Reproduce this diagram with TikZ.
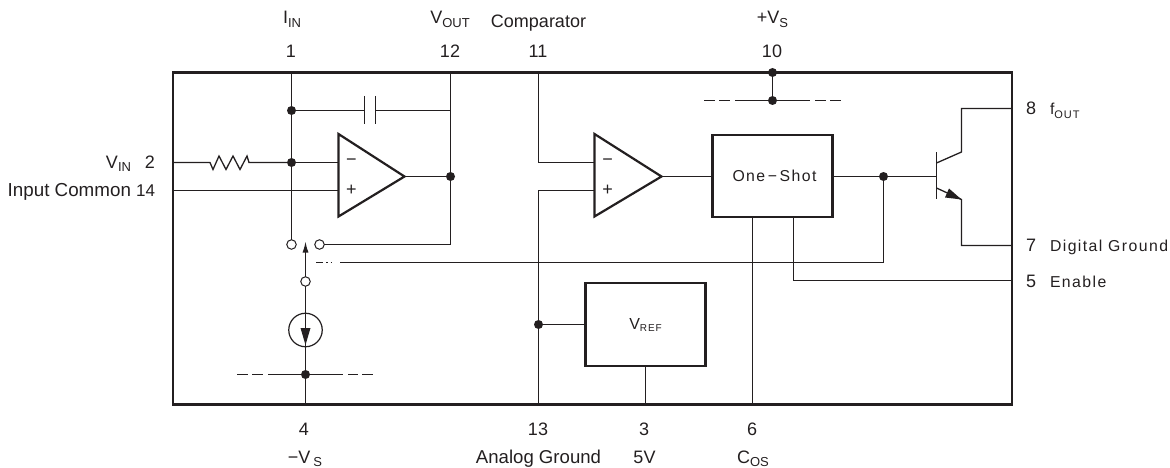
\documentclass[tikz,border=0pt]{standalone}
\usepackage{fontspec}
\setmainfont{Liberation Sans}
\newfontfamily\widefont[LetterSpace=9]{Liberation Sans}
\usetikzlibrary{arrows.meta,calc}
\definecolor{ink}{HTML}{231F20}
\tikzset{
  every node/.style={text=ink,inner sep=0pt,outer sep=0pt},
  wire/.style={draw=ink,line width=1.3pt},
  heavy/.style={draw=ink,line width=2.2pt},
  dotn/.style={circle,fill=ink,draw=none,minimum size=9pt},
  opn/.style={circle,fill=white,draw=ink,line width=1pt,minimum size=9.5pt},
  lab/.style={font=\fontsize{18}{20}\selectfont,anchor=base},
  wlab/.style={font=\fontsize{15.8}{18}\selectfont\widefont,anchor=base west},
  block/.style={draw=ink,line width=2.2pt,fill=white,anchor=north west},
}
\newcommand{\sbs}[1]{\raisebox{-3.5pt}{\fontsize{13}{14}\selectfont #1}}
\begin{document}
\begin{tikzpicture}[x=1pt,y=-1pt]
\useasboundingbox (0,0) rectangle (1170,468);
% frame
\node[draw=ink,line width=2.6pt,anchor=north west,minimum width=839pt,minimum height=332pt] (frame) at (173,72.5) {};
% pins
\coordinate (p1) at (291.5,72.5);
\coordinate (p12) at (450.5,72.5);
\coordinate (p11) at (538.5,72.5);
\coordinate (p4) at (305.5,404.5);
\coordinate (p13) at (538.5,404.5);
\coordinate (p3) at (645.5,404.5);
\coordinate (p6) at (752.5,404.5);
\coordinate (p2) at (173,162.5);
\coordinate (p14) at (173,190.5);
\coordinate (p8) at (1012,108.5);
\coordinate (p7) at (1012,245.5);
\coordinate (p5) at (1012,280.5);
% dots and contacts
\node[dotn] (d1) at (291.5,110.5) {};
\node[dotn] (d2) at (291.5,162.5) {};
\node[dotn] (dout) at (450.5,176.5) {};
\node[dotn] (dvs) at (772.5,72.5) {};
\node[dotn] (dvs2) at (772.5,100.5) {};
\node[dotn] (dneg) at (305.5,374.5) {};
\node[dotn] (dvref) at (538.5,324.5) {};
\node[dotn] (dos) at (883.5,176.5) {};
\node[opn] (sa) at (291.5,244.5) {};
\node[opn] (sb) at (319.5,244.5) {};
\node[opn] (sc) at (305.5,281.5) {};
% blocks
\node[block,minimum width=120pt,minimum height=82pt,font=\fontsize{15.8}{18}\selectfont\widefont] (os) at (712.5,135) {\hspace{4pt}One\,−\,Shot};
\node[block,minimum width=120pt,minimum height=83pt] (vref) at (585.5,283) {\fontsize{16}{18}\selectfont V\raisebox{-2pt}{\fontsize{10}{11}\selectfont\widefont REF}};
% op amps
\coordinate (a1) at (338.5,134);
\coordinate (a2) at (338.5,216.5);
\coordinate (a3) at (404.5,176.5);
\coordinate (b1) at (594.5,134);
\coordinate (b2) at (594.5,216.5);
\coordinate (b3) at (661.5,176.5);
% wires
\draw[wire] (p1) -- (sa.north);
\draw[wire] (d1) -- (364.5,110.5);
\draw[wire] (375.5,110.5) -- (450.5,110.5);
\draw[wire] (364.5,96) -- (364.5,124);
\draw[wire] (375.5,96) -- (375.5,124);
% resistor
\draw[wire] (p2) -- (210,162.5) -- (213,169.5) -- (219,156) -- (226,169.5) -- (233,156) -- (240,169.5) -- (247,156) -- (249,162.5) -- (d2);
\draw[wire] (d2) -- (338.5,162.5);
\draw[wire] (p14) -- (338.5,190.5);
\draw[wire] (p12) -- (450.5,244.5) -- (sb.east);
\draw[wire] (a3) -- (dout);
% switch
\draw[wire,-{Latex[length=11pt,width=6pt]}] (sc.north) -- (305.5,241.5);
\draw[wire] (sc.south) -- (p4);
\draw[wire] (316,262.5) -- (323,262.5);
\draw[wire] (326,262.5) -- (327.5,262.5);
\draw[wire] (330.5,262.5) -- (332,262.5);
\draw[wire] (340,262.5) -- (883.5,262.5) -- (dos);
% current source
\node[draw=ink,line width=1.2pt,fill=white,circle,minimum size=33.5pt] (cs) at (305.5,330) {};
\draw[wire] (cs.north) -- (cs.south);
\fill[ink] (300.5,328) -- (310.5,328) -- (305.5,345) -- cycle;
% rails
\draw[wire] (237,374.5) -- (248,374.5);
\draw[wire] (252,374.5) -- (263,374.5);
\draw[wire] (268,374.5) -- (dneg);
\draw[wire] (dneg) -- (343,374.5);
\draw[wire] (348,374.5) -- (358,374.5);
\draw[wire] (362,374.5) -- (373,374.5);
\draw[wire] (704,100.5) -- (715,100.5);
\draw[wire] (719,100.5) -- (730,100.5);
\draw[wire] (735,100.5) -- (dvs2);
\draw[wire] (dvs) -- (dvs2);
\draw[wire] (dvs2) -- (810,100.5);
\draw[wire] (815,100.5) -- (826,100.5);
\draw[wire] (830,100.5) -- (841,100.5);
% amp triangles
\draw[heavy,fill=white,line join=miter] (a1) -- (a2) -- (a3) -- cycle;
\draw[heavy,fill=white,line join=miter] (b1) -- (b2) -- (b3) -- cycle;
\node[font=\fontsize{18}{20}\selectfont] (m1) at (351.5,162.5) {−};
\node[font=\fontsize{18}{20}\selectfont] (pl1) at (351.5,190.5) {+};
\node[font=\fontsize{18}{20}\selectfont] (m2) at (607.5,162.5) {−};
\node[font=\fontsize{18}{20}\selectfont] (pl2) at (607.5,190.5) {+};
% comparator wiring
\draw[wire] (p11) -- (538.5,162.5) -- (594.5,162.5);
\draw[wire] (594.5,190.5) -- (538.5,190.5) -- (p13);
\draw[wire] (dvref) -- (585.5,324.5);
\draw[wire] (645.5,366) -- (p3);
\draw[wire] (b3) -- (712.5,176.5);
\draw[wire] (832.5,176.5) -- (936.5,176.5);
\draw[wire] (p6) -- (752.5,217);
\draw[wire] (793.5,217) -- (793.5,280.5) -- (p5);
% transistor
\draw[wire] (936.5,152.5) -- (936.5,198.5);
\draw[wire] (936.5,163) -- (961.5,152) -- (961.5,108.5) -- (p8);
\draw[wire] (936.5,188) -- (961.5,199.5) -- (961.5,245.5) -- (p7);
\fill[ink] (961.5,199.5) -- (945,197.5) -- (949,188.5) -- cycle;
% top labels
\node[lab] (t1) at (292,24) {I\sbs{IN}};
\node[lab] (t12) at (450,24) {V\sbs{OUT}};
\node[lab] (t11) at (538.5,28) {Comparator};
\node[lab] (t10) at (772.5,24) {+V\sbs{S}};
\node[lab] (n1) at (291,58) {1};
\node[lab] (n12) at (450,58) {12};
\node[lab] (n11) at (538,58) {11};
\node[lab] (n10) at (772,58) {10};
% bottom labels
\node[lab] (n4) at (304,435) {4};
\node[lab] (n13) at (538,435) {13};
\node[lab] (n3) at (644,435) {3};
\node[lab] (n6) at (752,435) {6};
\node[lab] (b4) at (305,463) {−V\,\sbs{S}};
\node[lab,font=\fontsize{18.6}{20}\selectfont] (b13) at (538.5,463) {Analog Ground};
\node[lab] (b3l) at (644.5,463) {5V};
\node[lab] (b6) at (753,463) {C\sbs{OS}};
% left labels
\node[lab,anchor=base east] (lv) at (131,168) {V\sbs{IN}};
\node[lab,anchor=base east] (n2) at (155,168) {2};
\node[lab,anchor=base east,font=\fontsize{18.8}{20}\selectfont] (lc) at (131,196) {Input Common};
\node[lab,anchor=base east,font=\fontsize{17}{20}\selectfont] (n14) at (155,196) {14};
% right labels
\node[lab,anchor=base west] (n8) at (1026,115) {8};
\node[wlab] (l8) at (1050,115) {f\raisebox{-3.5pt}{\fontsize{11}{12}\selectfont OUT}};
\node[lab,anchor=base west] (n7) at (1026,251) {7};
\node[wlab] (l7) at (1050,251) {Digital Ground};
\node[lab,anchor=base west] (n5) at (1026,287) {5};
\node[wlab] (l5) at (1050,287) {Enable};
\end{tikzpicture}
\end{document}
